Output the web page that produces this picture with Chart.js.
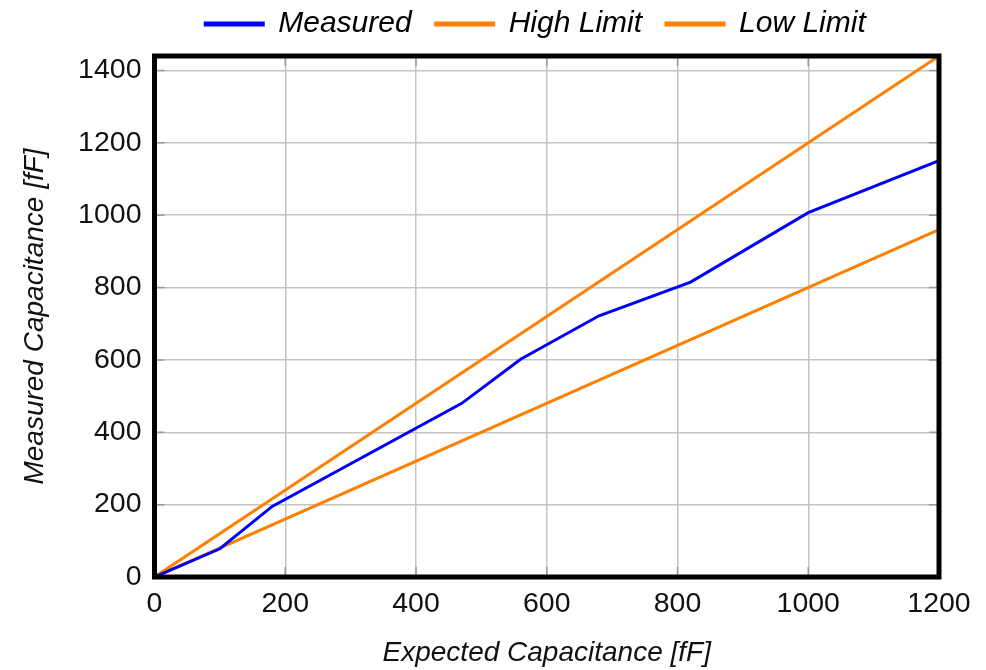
<!DOCTYPE html>
<html>
<head>
<meta charset="utf-8">
<script src="https://cdn.jsdelivr.net/npm/chart.js@4"></script>
<style>
  html, body { margin: 0; padding: 0; background: #fff; }
  #wrap { width: 986px; height: 670px; }
</style>
</head>
<body>
<div id="wrap"><canvas id="chartCanvas"></canvas></div>
<script>
// values
const expected = [0, 100, 180, 470, 560, 680, 820, 1000, 1200];
const measured = [0, 78, 195, 480, 602, 722, 815, 1007, 1151];
const limitX = [0, 1200];
const highLimit = [0, 1440];
const lowLimit = [0, 960];
const xTicks = [0, 200, 400, 600, 800, 1000, 1200];
const yTicks = [0, 200, 400, 600, 800, 1000, 1200, 1400];

const FONT = "'Liberation Sans', Arial, sans-serif";
const ORANGE = "#ff8000";
const BLUE = "#0000ff";

function pts(xs, ys) {
    return xs.map((x, i) => ({ x: x, y: ys[i] }));
}

// black frame + small inner tick marks, like pgfplots
const framePlugin = {
    id: "frame",
    afterLayout(chart) {
        // center the legend over the plot box and lift it a bit
        const lg = chart.legend;
        lg.left += 66; lg.right += 66;
        lg.top -= 7; lg.bottom -= 7;
    },
    afterDatasetsDraw(chart) {
        const { ctx, chartArea: a, scales } = chart;
        ctx.save();
        ctx.strokeStyle = "#9a9a9a";
        ctx.lineWidth = 1.5;
        const len = 10;
        xTicks.forEach(v => {
            const px = scales.x.getPixelForValue(v);
            ctx.beginPath();
            ctx.moveTo(px, a.bottom); ctx.lineTo(px, a.bottom - len);
            ctx.moveTo(px, a.top); ctx.lineTo(px, a.top + len);
            ctx.stroke();
        });
        yTicks.forEach(v => {
            const py = scales.y.getPixelForValue(v);
            ctx.beginPath();
            ctx.moveTo(a.left, py); ctx.lineTo(a.left + len, py);
            ctx.moveTo(a.right, py); ctx.lineTo(a.right - len, py);
            ctx.stroke();
        });
        ctx.strokeStyle = "#000";
        ctx.lineWidth = 5;
        ctx.strokeRect(a.left, a.top, a.right - a.left, a.bottom - a.top);
        ctx.restore();
    }
};

new Chart(document.getElementById("chartCanvas"), {
    type: "line",
    data: {
        datasets: [
            {
                label: "Measured",
                data: pts(expected, measured),
                borderColor: BLUE,
                backgroundColor: BLUE,
                borderWidth: 3,
                pointRadius: 0,
                tension: 0,
            },
            {
                label: "High Limit",
                data: pts(limitX, highLimit),
                borderColor: ORANGE,
                backgroundColor: ORANGE,
                borderWidth: 3,
                pointRadius: 0,
            },
            {
                label: "Low Limit",
                data: pts(limitX, lowLimit),
                borderColor: ORANGE,
                backgroundColor: ORANGE,
                borderWidth: 3,
                pointRadius: 0,
            },
        ],
    },
    options: {
        responsive: true,
        maintainAspectRatio: false,
        animation: false,
        layout: { padding: { left: 0, right: 47, top: -8, bottom: 0 } },
        plugins: {
            tooltip: { enabled: false },
            legend: {
                position: "top",
                labels: {
                    boxWidth: 58,
                    boxHeight: 2,
                    padding: 24,
                    color: "#000",
                    font: { family: FONT, size: 30, style: "italic" },
                },
            },
        },
        scales: {
            x: {
                type: "linear",
                min: 0,
                max: 1200,
                afterFit(scale) { scale.height = 93; },
                afterBuildTicks(scale) { scale.ticks = xTicks.map(v => ({ value: v })); },
                ticks: {
                    padding: 10,
                    color: "#111",
                    font: { family: FONT, size: 28.5 },
                    callback: v => String(v),
                },
                grid: { color: "#c4c4c4", lineWidth: 1.5, drawTicks: false },
                border: { display: false },
                title: {
                    display: true,
                    text: "Expected Capacitance [fF]",
                    color: "#111",
                    font: { family: FONT, size: 28, style: "italic" },
                    padding: { top: 6, bottom: 0 },
                },
            },
            y: {
                type: "linear",
                min: 0,
                max: 1440,
                afterFit(scale) { scale.width = 154.5; },
                afterBuildTicks(scale) { scale.ticks = yTicks.map(v => ({ value: v })); },
                ticks: {
                    padding: 13,
                    color: "#111",
                    font: { family: FONT, size: 28.5 },
                    callback: v => String(v),
                },
                grid: { color: "#c4c4c4", lineWidth: 1.5, drawTicks: false },
                border: { display: false },
                title: {
                    display: true,
                    text: "Measured Capacitance [fF]",
                    color: "#111",
                    font: { family: FONT, size: 28, style: "italic" },
                    padding: { top: 18, bottom: 10 },
                },
            },
        },
    },
    plugins: [framePlugin],
});
</script>
</body>
</html>
